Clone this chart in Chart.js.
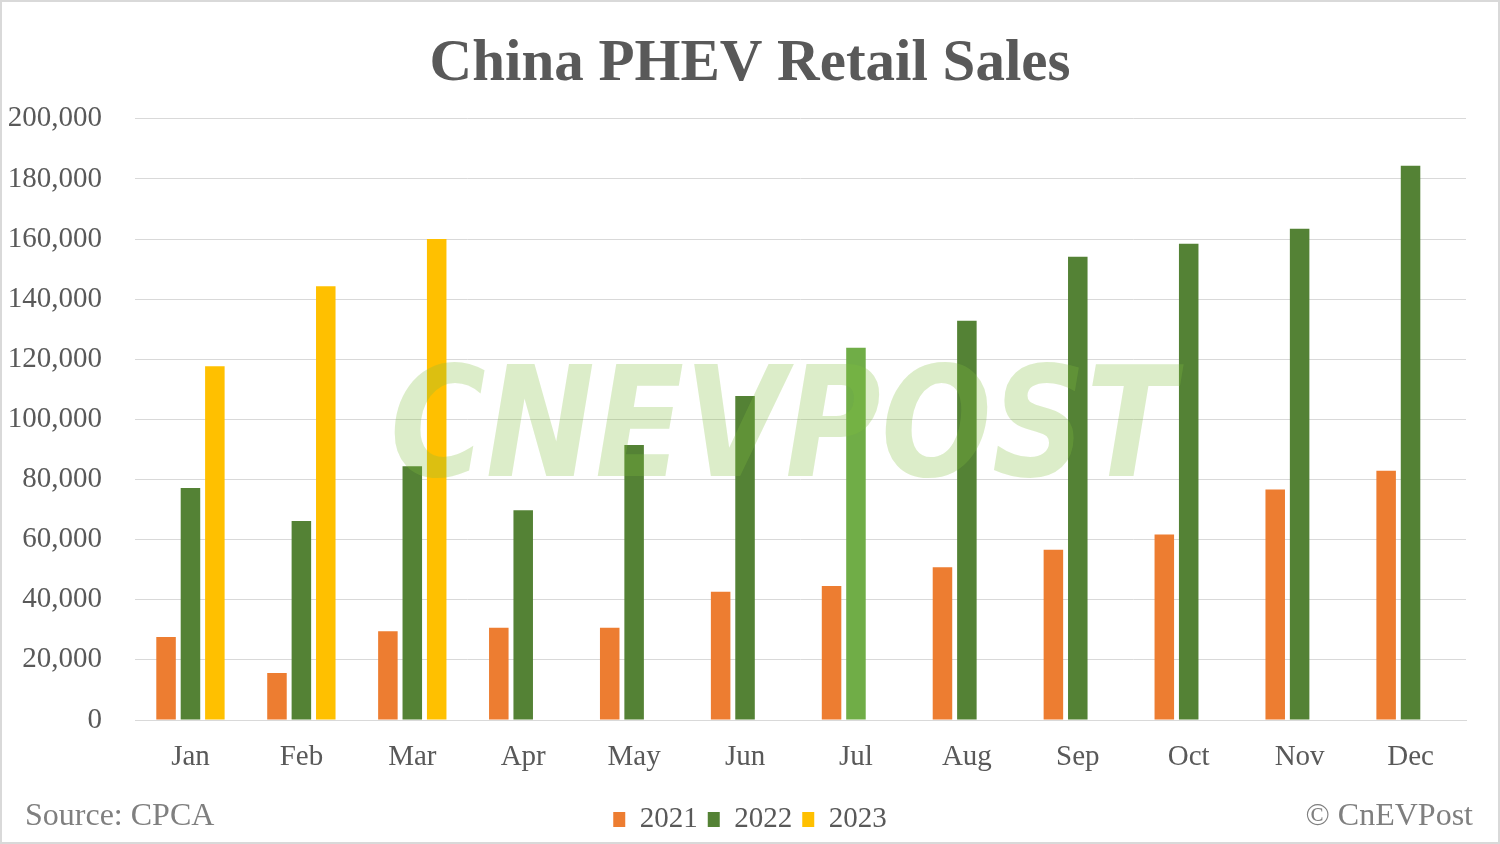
<!DOCTYPE html>
<html>
<head>
<meta charset="utf-8">
<script src="https://cdn.jsdelivr.net/npm/chart.js@4.4.0/dist/chart.umd.min.js"></script>
<style>
  html, body { margin: 0; padding: 0; background: #ffffff; }
  #wrap { width: 1500px; height: 844px; position: relative; }
</style>
</head>
<body>
<div id="wrap"><canvas id="c" width="1500" height="844"></canvas></div>
<script>
const categories = ['Jan','Feb','Mar','Apr','May','Jun','Jul','Aug','Sep','Oct','Nov','Dec'];
const seriesNames = ['2021','2022','2023'];
const sales2021 = [27600, 15600, 29500, 30700, 30700, 42700, 44600, 50800, 56600, 61700, 76700, 82900];
const sales2022 = [77200, 66200, 84400, 69800, 91500, 107800, 123800, 132800, 154100, 158400, 163400, 184400];
const sales2023 = [117700, 144300, 160000, null, null, null, null, null, null, null, null, null];
const yMin = 0, yMax = 200000, yStep = 20000;

const COLOR_2021 = '#ED7D31';
const COLOR_2022 = '#548235';
const COLOR_2022_HL = '#70AD47';
const COLOR_2023 = '#FFC000';
const TEXT = '#595959';
const FONT = "'Liberation Serif', 'Times New Roman', serif";

const colors2022 = categories.map((c) => c === 'Jul' ? COLOR_2022_HL : COLOR_2022);

const extras = {
  id: 'extras',
  afterDatasetsDraw(chart) {
    const ctx = chart.ctx;
    ctx.save();
    ctx.font = "bold italic 150px 'DejaVu Sans'";
    const txt = 'CNEVPOST';
    const w = ctx.measureText(txt).width;
    const targetW = 785, targetH = 112;
    ctx.translate(390, 476);
    ctx.scale(targetW / w, targetH / 110);
    ctx.fillStyle = 'rgba(130, 190, 60, 0.28)';
    ctx.textBaseline = 'alphabetic';
    ctx.fillText(txt, 0, 0);
    ctx.restore();
  },
  afterDraw(chart) {
    const ctx = chart.ctx;
    ctx.save();
    ctx.fillStyle = '#7F7F7F';
    ctx.font = "32px " + FONT;
    ctx.textBaseline = 'middle';
    ctx.textAlign = 'left';
    ctx.fillText('Source: CPCA', 25, 817);
    ctx.textAlign = 'right';
    ctx.fillText('\u00A9 CnEVPost', 1473, 817);
    ctx.strokeStyle = '#D9D9D9';
    ctx.lineWidth = 2;
    ctx.strokeRect(1, 1, 1498, 842);
    ctx.restore();
  }
};

new Chart(document.getElementById('c'), {
  type: 'bar',
  data: {
    labels: categories,
    datasets: [
      { label: seriesNames[0], data: sales2021, backgroundColor: COLOR_2021 },
      { label: seriesNames[1], data: sales2022, backgroundColor: colors2022 },
      { label: seriesNames[2], data: sales2023, backgroundColor: COLOR_2023 }
    ]
  },
  options: {
    responsive: false,
    animation: false,
    devicePixelRatio: 1,
    layout: { padding: { left: 0, right: 0, top: 0, bottom: 0 } },
    datasets: { bar: { categoryPercentage: 0.66, barPercentage: 0.8 } },
    plugins: {
      title: {
        display: true,
        text: 'China PHEV Retail Sales',
        color: TEXT,
        font: { family: FONT, size: 59, weight: 'bold', lineHeight: 1.2 },
        padding: { top: 29, bottom: 19 }
      },
      legend: {
        position: 'bottom',
        labels: {
          color: TEXT,
          font: { family: FONT, size: 29 },
          boxWidth: 12,
          boxHeight: 15,
          padding: 10
        }
      },
      tooltip: { enabled: false }
    },
    scales: {
      x: {
        grid: { display: false, drawTicks: false },
        border: { display: true, color: '#D9D9D9', width: 1 },
        ticks: { color: TEXT, font: { family: FONT, size: 29 }, padding: 20, maxRotation: 0 },
        afterFit(scale) { scale.height = 75; }
      },
      y: {
        min: yMin, max: yMax,
        grid: { color: '#D9D9D9', lineWidth: 1, drawTicks: false },
        border: { display: false },
        ticks: {
          stepSize: yStep,
          color: TEXT,
          font: { family: FONT, size: 29 },
          padding: 33,
          callback: (v) => Number(v).toLocaleString('en-US')
        },
        afterFit(scale) { scale.width = 135; }
      },
      yRight: {
        position: 'right',
        min: yMin, max: yMax,
        grid: { display: false, drawTicks: false },
        border: { display: false },
        ticks: { display: false },
        afterFit(scale) { scale.width = 34; }
      }
    }
  },
  plugins: [extras]
});
</script>
</body>
</html>
